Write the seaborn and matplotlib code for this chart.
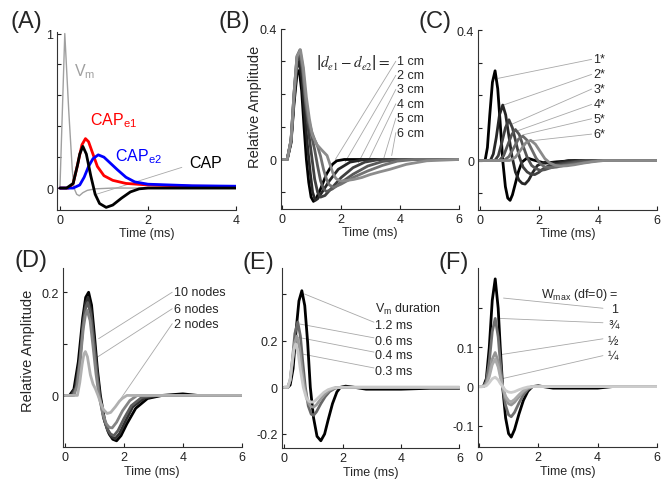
import seaborn as sns
import matplotlib.pyplot as plt

# ---------------- Panel A data ----------------
a_vm_t = [0.0, 0.11, 0.2, 0.28, 0.32, 0.38, 0.44, 0.52, 0.62, 0.8, 1.2, 4.0]
a_vm_v = [0.0, 1.0, 0.5, 0.12, 0.0, -0.04, -0.05, -0.03, -0.015, -0.005, 0.0, 0.0]
a_e1_t = [0, 0.2, 0.3, 0.4, 0.5, 0.58, 0.65, 0.75, 0.85, 1.0, 1.2, 1.5, 2.0, 3.0, 4.0]
a_e1_v = [0, 0.0, 0.03, 0.15, 0.28, 0.32, 0.3, 0.22, 0.14, 0.08, 0.05, 0.03, 0.02, 0.012, 0.01]
a_e2_t = [0, 0.3, 0.45, 0.55, 0.65, 0.75, 0.87, 1.0, 1.15, 1.3, 1.5, 1.7, 2.0, 3.0, 4.0]
a_e2_v = [0, 0.0, 0.02, 0.07, 0.14, 0.19, 0.215, 0.2, 0.16, 0.12, 0.07, 0.04, 0.025, 0.015, 0.012]
a_cap_t = [0, 0.15, 0.3, 0.4, 0.45, 0.52, 0.6, 0.7, 0.8, 0.9, 1.05, 1.2, 1.4, 1.6, 1.8, 2.0, 4.0]
a_cap_v = [0, 0.0, 0.03, 0.15, 0.22, 0.27, 0.22, 0.08, -0.04, -0.1, -0.125, -0.11, -0.065, -0.025, -0.005, 0.0, 0.0]

# ---------------- Panel B data (electrode separation) ----------------
b_labels = ["1 cm", "2 cm", "3 cm", "4 cm", "5 cm", "6 cm"]
b_colors = ["#000000", "#262626", "#404040", "#595959", "#737373", "#8c8c8c"]
b_t = [
    [0, 0.17, 0.3, 0.4, 0.5, 0.58, 0.66, 0.74, 0.82, 0.9, 0.98, 1.06, 1.15, 1.3, 1.5, 1.7, 1.85, 2.1, 6.0],
    [0, 0.17, 0.3, 0.4, 0.5, 0.58, 0.66, 0.76, 0.86, 0.95, 1.03, 1.12, 1.2, 1.35, 1.6, 1.9, 2.3, 2.8, 6.0],
    [0, 0.17, 0.3, 0.4, 0.5, 0.6, 0.7, 0.8, 0.9, 1.0, 1.1, 1.2, 1.3, 1.45, 1.7, 2.0, 2.4, 2.8, 3.3, 6.0],
    [0, 0.17, 0.3, 0.4, 0.5, 0.6, 0.7, 0.8, 0.9, 1.0, 1.1, 1.2, 1.3, 1.4, 1.5, 1.7, 2.0, 2.4, 2.9, 3.4, 4.0, 6.0],
    [0, 0.17, 0.3, 0.4, 0.5, 0.6, 0.7, 0.8, 0.9, 1.0, 1.1, 1.2, 1.3, 1.4, 1.5, 1.6, 1.75, 2.0, 2.4, 2.9, 3.4,
     3.9, 4.5, 6.0],
    [0, 0.17, 0.3, 0.4, 0.5, 0.62, 0.72, 0.82, 0.92, 1.02, 1.18, 1.35, 1.52, 1.62, 1.72, 1.82, 1.97, 2.2, 2.42,
     2.7, 2.98, 3.3, 3.65, 4.2, 4.9, 6.0],
]
b_v = [
    [0, 0, 0.05, 0.17, 0.26, 0.272, 0.21, 0.1, 0.0, -0.07, -0.115, -0.128, -0.12, -0.09, -0.045, -0.015, -0.004,
     0.0, 0.0],
    [0, 0, 0.055, 0.18, 0.28, 0.3, 0.25, 0.14, 0.04, -0.04, -0.1, -0.125, -0.12, -0.1, -0.065, -0.03, -0.008,
     0.0, 0.0],
    [0, 0, 0.058, 0.19, 0.3, 0.32, 0.26, 0.16, 0.08, 0.01, -0.06, -0.1, -0.115, -0.11, -0.085, -0.055, -0.025,
     -0.008, 0, 0],
    [0, 0, 0.06, 0.2, 0.31, 0.33, 0.27, 0.17, 0.11, 0.07, 0.03, -0.02, -0.065, -0.09, -0.098, -0.09, -0.07,
     -0.045, -0.02, -0.006, 0, 0],
    [0, 0, 0.06, 0.2, 0.315, 0.335, 0.28, 0.18, 0.12, 0.085, 0.06, 0.04, 0.01, -0.03, -0.06, -0.078, -0.085,
     -0.075, -0.055, -0.035, -0.018, -0.005, 0, 0],
    [0, 0, 0.06, 0.2, 0.315, 0.335, 0.28, 0.19, 0.125, 0.075, 0.045, 0.028, 0.012, -0.015, -0.042, -0.058,
     -0.066, -0.064, -0.061, -0.055, -0.046, -0.038, -0.03, -0.015, -0.004, 0],
]
b_label_y = [0.30, 0.257, 0.214, 0.17, 0.126, 0.082]
b_lead_from = [(1.8, 0.0), (2.13, -0.008), (2.58, -0.01), (2.92, -0.003), (3.43, 0.0), (3.71, 0.012)]

# ---------------- Panel C data ----------------
c_labels = ["1*", "2*", "3*", "4*", "5*", "6*"]
c_colors = ["#000000", "#262626", "#404040", "#555555", "#6b6b6b", "#8a8a8a"]
c_t = [
    [0, 0.17, 0.25, 0.33, 0.42, 0.51, 0.6, 0.68, 0.77, 0.86, 0.94, 1.02, 1.1, 1.2, 1.3, 1.42, 1.6, 1.8, 2.2, 2.6,
     3.2, 6.0],
    [0, 0.35, 0.45, 0.55, 0.66, 0.77, 0.87, 0.97, 1.08, 1.2, 1.32, 1.43, 1.53, 1.65, 1.8, 1.95, 2.2, 2.6, 3.0, 6.0],
    [0, 0.5, 0.62, 0.74, 0.86, 0.98, 1.1, 1.22, 1.34, 1.46, 1.6, 1.73, 1.86, 2.0, 2.15, 2.35, 2.6, 3.0, 3.4, 6.0],
    [0, 0.65, 0.8, 0.95, 1.08, 1.2, 1.33, 1.46, 1.6, 1.75, 1.9, 2.05, 2.2, 2.4, 2.6, 2.85, 3.2, 3.6, 6.0],
    [0, 0.8, 0.98, 1.15, 1.3, 1.45, 1.6, 1.75, 1.9, 2.05, 2.2, 2.4, 2.6, 2.8, 3.05, 3.3, 3.7, 4.0, 6.0],
    [0, 1.0, 1.2, 1.4, 1.56, 1.72, 1.88, 2.04, 2.2, 2.38, 2.56, 2.75, 2.95, 3.2, 3.5, 3.8, 4.2, 6.0],
]
c_v = [
    [0, 0, 0.04, 0.14, 0.24, 0.275, 0.22, 0.12, 0.0, -0.08, -0.115, -0.122, -0.105, -0.07, -0.035, -0.005, 0.008,
     0.002, -0.008, -0.004, 0, 0],
    [0, 0, 0.02, 0.07, 0.14, 0.17, 0.14, 0.08, 0.015, -0.035, -0.06, -0.07, -0.072, -0.06, -0.035, -0.015,
     -0.005, -0.008, 0, 0],
    [0, 0, 0.015, 0.055, 0.1, 0.125, 0.1, 0.055, 0.01, -0.02, -0.035, -0.042, -0.043, -0.036, -0.025, -0.015,
     -0.012, -0.006, 0, 0],
    [0, 0, 0.015, 0.05, 0.08, 0.095, 0.08, 0.045, 0.01, -0.015, -0.025, -0.03, -0.028, -0.022, -0.016, -0.012,
     -0.006, 0, 0],
    [0, 0, 0.012, 0.04, 0.065, 0.075, 0.062, 0.035, 0.008, -0.01, -0.02, -0.022, -0.02, -0.016, -0.012, -0.009,
     -0.004, 0, 0],
    [0, 0, 0.01, 0.035, 0.055, 0.062, 0.05, 0.028, 0.006, -0.008, -0.015, -0.017, -0.016, -0.013, -0.008,
     -0.004, 0, 0],
]
c_label_y = [0.31, 0.264, 0.219, 0.172, 0.128, 0.081]
c_lead_from = [(0.62, 0.252), (0.79, 0.17), (1.07, 0.111), (1.3, 0.092), (1.47, 0.079), (1.69, 0.06)]

# ---------------- Panel D data (number of nodes) ----------------
d_colors = ["#000000", "#303030", "#5c5c5c", "#858585", "#b0b0b0"]
d_t = [
    [0, 0.15, 0.3, 0.45, 0.6, 0.7, 0.8, 0.9, 1.0, 1.1, 1.2, 1.35, 1.5, 1.62, 1.75, 1.9, 2.1, 2.4, 2.8, 3.3, 4.0,
     4.5, 6.0],
    [0, 0.2, 0.35, 0.5, 0.62, 0.7, 0.78, 0.88, 0.98, 1.08, 1.18, 1.32, 1.46, 1.58, 1.7, 1.85, 2.05, 2.3, 2.7,
     3.2, 6.0],
    [0, 0.25, 0.38, 0.5, 0.62, 0.7, 0.77, 0.87, 0.97, 1.07, 1.17, 1.3, 1.43, 1.55, 1.66, 1.8, 2.0, 2.25, 2.6,
     3.0, 6.0],
    [0, 0.3, 0.42, 0.52, 0.62, 0.69, 0.75, 0.85, 0.95, 1.05, 1.15, 1.28, 1.4, 1.5, 1.6, 1.75, 1.95, 2.2, 2.45,
     6.0],
    [0, 0.42, 0.5, 0.58, 0.64, 0.69, 0.76, 0.86, 0.95, 1.03, 1.12, 1.2, 1.3, 1.43, 1.55, 1.71, 1.85, 1.94, 2.1,
     6.0],
]
d_v = [
    [0, 0, 0.012, 0.065, 0.15, 0.19, 0.2, 0.175, 0.115, 0.05, 0.0, -0.05, -0.075, -0.085, -0.088, -0.078,
     -0.055, -0.025, -0.006, 0, 0.003, 0, 0],
    [0, 0, 0.015, 0.07, 0.145, 0.178, 0.19, 0.165, 0.11, 0.05, 0.0, -0.045, -0.07, -0.08, -0.084, -0.074, -0.05,
     -0.022, -0.005, 0, 0],
    [0, 0, 0.015, 0.065, 0.14, 0.17, 0.18, 0.158, 0.105, 0.048, 0.0, -0.042, -0.065, -0.075, -0.078, -0.068,
     -0.045, -0.02, -0.004, 0, 0],
    [0, 0, 0.02, 0.07, 0.13, 0.155, 0.165, 0.145, 0.095, 0.042, 0.0, -0.035, -0.055, -0.062, -0.063, -0.052,
     -0.03, -0.01, 0, 0],
    [0, 0, 0.025, 0.06, 0.08, 0.085, 0.075, 0.04, 0.022, 0.013, 0.0, -0.013, -0.027, -0.035, -0.033, -0.022,
     -0.011, -0.006, 0, 0],
]
d_labels = ["10 nodes", "6 nodes", "2 nodes"]
d_label_y = [0.2, 0.168, 0.139]
d_lead_from = [(1.14, 0.11), (1.09, 0.074), (1.89, -0.0065)]

# ---------------- Panel E data (Vm duration) ----------------
e_colors = ["#000000", "#686868", "#9a9a9a", "#c8c8c8"]
e_t = [
    [0, 0.12, 0.2, 0.3, 0.4, 0.5, 0.6, 0.7, 0.8, 0.89, 1.0, 1.12, 1.25, 1.38, 1.5, 1.65, 1.8, 1.92, 2.1, 2.4,
     2.8, 4.0, 5.0, 6.0],
    [0, 0.12, 0.2, 0.28, 0.36, 0.46, 0.55, 0.63, 0.72, 0.82, 0.92, 1.0, 1.1, 1.25, 1.4, 1.55, 1.75, 2.0, 6.0],
    [0, 0.12, 0.2, 0.28, 0.35, 0.43, 0.52, 0.6, 0.69, 0.79, 0.9, 1.0, 1.1, 1.25, 1.4, 1.55, 1.75, 2.0, 6.0],
    [0, 0.12, 0.2, 0.27, 0.33, 0.39, 0.47, 0.55, 0.65, 0.75, 0.85, 0.95, 1.05, 1.2, 1.35, 1.5, 1.7, 2.0, 6.0],
]
e_v = [
    [0, 0, 0.01, 0.08, 0.24, 0.37, 0.414, 0.35, 0.19, 0.0, -0.13, -0.21, -0.229, -0.2, -0.14, -0.07, -0.02, 0.0,
     0.005, 0.0, -0.008, -0.008, -0.004, -0.004],
    [0, 0, 0.03, 0.12, 0.23, 0.28, 0.22, 0.11, 0.0, -0.08, -0.115, -0.12, -0.105, -0.07, -0.04, -0.018, -0.003,
     0, 0],
    [0, 0, 0.03, 0.11, 0.19, 0.22, 0.17, 0.08, 0.0, -0.058, -0.082, -0.085, -0.075, -0.05, -0.028, -0.012,
     -0.002, 0, 0],
    [0, 0, 0.035, 0.11, 0.165, 0.186, 0.15, 0.075, 0.0, -0.045, -0.06, -0.064, -0.058, -0.04, -0.022, -0.01,
     -0.002, 0, 0],
]
e_labels = ["1.2 ms", "0.6 ms", "0.4 ms", "0.3 ms"]
e_label_y = [0.267, 0.2, 0.139, 0.071]
e_lead_from = [(0.69, 0.4), (0.54, 0.271), (0.48, 0.214), (0.43, 0.147)]

# ---------------- Panel F data (Wmax) ----------------
f_colors = ["#000000", "#707070", "#959595", "#aaaaaa", "#cccccc"]
f_t = [0, 0.15, 0.25, 0.35, 0.45, 0.55, 0.65, 0.72, 0.8, 0.9, 1.0, 1.09, 1.2, 1.35, 1.5, 1.65, 1.8, 2.0, 2.5,
       4.0, 4.5, 6.0]
f_v = [
    [0, 0, 0.02, 0.1, 0.22, 0.275, 0.2, 0.1, 0.0, -0.08, -0.12, -0.129, -0.11, -0.07, -0.035, -0.012, 0.0,
     0.002, -0.004, -0.004, 0, 0],
    [0, 0, 0.013, 0.063, 0.14, 0.174, 0.127, 0.063, 0.0, -0.048, -0.072, -0.077, -0.066, -0.042, -0.021,
     -0.007, 0, 0, 0, 0, 0, 0],
    [0, 0, 0.007, 0.032, 0.07, 0.087, 0.064, 0.032, 0.0, -0.03, -0.044, -0.047, -0.04, -0.026, -0.013, -0.004,
     0, 0, 0, 0, 0, 0],
    [0, 0, 0.005, 0.025, 0.056, 0.07, 0.05, 0.025, 0.0, -0.025, -0.036, -0.039, -0.033, -0.021, -0.01, -0.003,
     0, 0, 0, 0, 0, 0],
    [0, 0, 0.002, 0.01, 0.02, 0.024, 0.017, 0.008, 0.0, -0.01, -0.014, -0.015, -0.013, -0.008, -0.004, -0.001,
     0, 0, 0, 0, 0, 0],
]
f_labels = ["1", "\u00be", "\u00bd", "\u00bc"]
f_label_y = [0.198, 0.156, 0.117, 0.079]
f_lead_from = [(0.83, 0.226), (0.72, 0.174), (0.77, 0.082), (0.77, 0.02)]

# ---------------- Style ----------------
sns.set_style("ticks", {"xtick.direction": "in", "ytick.direction": "in"})
plt.rcParams["font.family"] = ["Liberation Sans", "DejaVu Sans"]
plt.rcParams["mathtext.fontset"] = "custom"
plt.rcParams["mathtext.rm"] = "Liberation Sans"
plt.rcParams["mathtext.it"] = "Liberation Sans:italic"

LEAD = "#a8a8a8"
FS = 9


def pos(l, t, r, b):
    # pixel box (from top-left) -> figure fraction
    return [l / 665, 1 - b / 481, (r - l) / 665, (b - t) / 481]


def curve(ax, t, v, color, lw=2.0):
    sns.lineplot(x=t, y=v, ax=ax, color=color, linewidth=lw, estimator=None, sort=False, legend=False)


def style(ax, xlim, ylim, xticks, yticks, ylabels):
    ax.set_xlim(xlim)
    ax.set_ylim(ylim)
    ax.set_xticks(xticks)
    ax.set_yticks(yticks)
    ax.set_yticklabels(ylabels)
    ax.set_xlabel("Time (ms)", fontsize=FS, labelpad=1)
    ax.set_ylabel("")
    sns.despine(ax=ax)
    for s in ["left", "bottom"]:
        ax.spines[s].set_linewidth(0.8)
        ax.spines[s].set_color("#333333")
    ax.tick_params(direction="in", length=3, width=0.8, labelsize=FS, pad=3, colors="#222222")


def leads(ax, starts, x_end, ys):
    for (x0, y0), y1 in zip(starts, ys):
        ax.plot([x0, x_end], [y0, y1], color=LEAD, lw=0.6, zorder=1)


fig = plt.figure(figsize=(6.65, 4.81), dpi=100)
axA = fig.add_axes(pos(57.3, 33, 236, 210.7))
axB = fig.add_axes(pos(281, 29.5, 459.3, 209.6))
axC = fig.add_axes(pos(478.3, 31, 656.7, 210.5))
axD = fig.add_axes(pos(62.7, 269, 241.7, 448))
axE = fig.add_axes(pos(281.7, 269.3, 459.5, 449))
axF = fig.add_axes(pos(477.7, 269.3, 657, 448.3))

# Panel A
curve(axA, a_vm_t, a_vm_v, "#a0a0a0", lw=1.0)
curve(axA, a_e1_t, a_e1_v, "#ff0000")
curve(axA, a_e2_t, a_e2_v, "#0000ff")
curve(axA, a_cap_t, a_cap_v, "#000000")
axA.plot([0.83, 2.77], [-0.04, 0.134], color=LEAD, lw=0.6, zorder=1)
axA.text(0.32, 0.76, r"V$_{\rm m}$", color="#a0a0a0", fontsize=11.5, va="center")
axA.text(0.68, 0.44, r"CAP$_{\rm e1}$", color="#ff0000", fontsize=11.5, va="center")
axA.text(1.25, 0.21, r"CAP$_{\rm e2}$", color="#0000ff", fontsize=11.5, va="center")
axA.text(2.93, 0.167, "CAP", color="#000000", fontsize=11.5, va="center")
style(axA, (-0.06, 4.0), (-0.14, 1.01), [0, 2, 4], [0, 0.2, 0.4, 0.6, 0.8, 1.0], ["0", "", "", "", "", "1"])

# Panel B
leads(axB, b_lead_from, 3.85, b_label_y)
for t, v, c in zip(b_t, b_v, b_colors):
    curve(axB, t, v, c)
for lab, y in zip(b_labels, b_label_y):
    axB.text(3.88, y, lab, fontsize=FS, va="center")
axB.text(1.15, 0.30, r"$\left|d_{e1}-d_{e2}\right|=$", fontsize=11, va="center", math_fontfamily="stix")
style(axB, (-0.04, 6.0), (-0.15, 0.4), [0, 2, 4, 6], [-0.1, 0, 0.1, 0.2, 0.3, 0.4],
      ["", "0", "", "", "", "0.4"])
axB.set_ylabel("Relative Amplitude", fontsize=10.5, labelpad=2)
axB.yaxis.set_label_coords(-0.105, 0.57)

# Panel C
leads(axC, c_lead_from, 3.79, c_label_y)
for t, v, c in zip(c_t, c_v, c_colors):
    curve(axC, t, v, c)
for lab, y in zip(c_labels, c_label_y):
    axC.text(3.85, y, lab, fontsize=FS, va="center")
style(axC, (-0.06, 6.0), (-0.15, 0.4), [0, 2, 4, 6], [-0.1, 0, 0.1, 0.2, 0.3, 0.4],
      ["", "0", "", "", "", "0.4"])

# Panel D
leads(axD, d_lead_from, 3.64, d_label_y)
for t, v, c in zip(d_t, d_v, d_colors):
    curve(axD, t, v, c)
for lab, y in zip(d_labels, d_label_y):
    axD.text(3.71, y, lab, fontsize=FS, va="center")
style(axD, (-0.08, 6.0), (-0.1, 0.247), [0, 2, 4, 6], [0, 0.1, 0.2], ["0", "", "0.2"])
axD.set_ylabel("Relative Amplitude", fontsize=10.5, labelpad=2)
axD.yaxis.set_label_coords(-0.155, 0.54)

# Panel E
leads(axE, e_lead_from, 3.07, [y + 0.012 for y in e_label_y])
for t, v, c in zip(e_t, e_v, e_colors):
    curve(axE, t, v, c)
axE.text(3.1, 0.336, r"V$_{\rm m}$ duration", fontsize=FS, va="center")
for lab, y in zip(e_labels, e_label_y):
    axE.text(3.1, y, lab, fontsize=FS, va="center")
style(axE, (-0.09, 6.0), (-0.26, 0.51), [0, 2, 4, 6], [-0.2, 0, 0.2, 0.4], ["-0.2", "0", "0.2", ""])

# Panel F
leads(axF, f_lead_from, 4.18, [0.2, 0.163, 0.122, 0.079])
for v, c in zip(f_v, f_colors):
    curve(axF, f_t, v, c)
axF.text(4.7, 0.237, r"W$_{\rm max}$ (df=0) =", fontsize=FS, va="center", ha="right")
for lab, y in zip(f_labels, f_label_y):
    axF.text(4.7, y, lab, fontsize=FS, va="center", ha="right")
style(axF, (-0.04, 6.0), (-0.155, 0.302), [0, 2, 4, 6], [-0.1, 0, 0.1, 0.2], ["-0.1", "0", "0.1", ""])

# Panel letters
for lab, x, y in [("(A)", 10, 22), ("(B)", 219, 22), ("(C)", 418, 22),
                  ("(D)", 14, 261), ("(E)", 243, 263), ("(F)", 438, 263)]:
    fig.text(x / 665, 1 - y / 481, lab, fontsize=17, va="center", ha="left")

fig.savefig("out.png", dpi=100)
